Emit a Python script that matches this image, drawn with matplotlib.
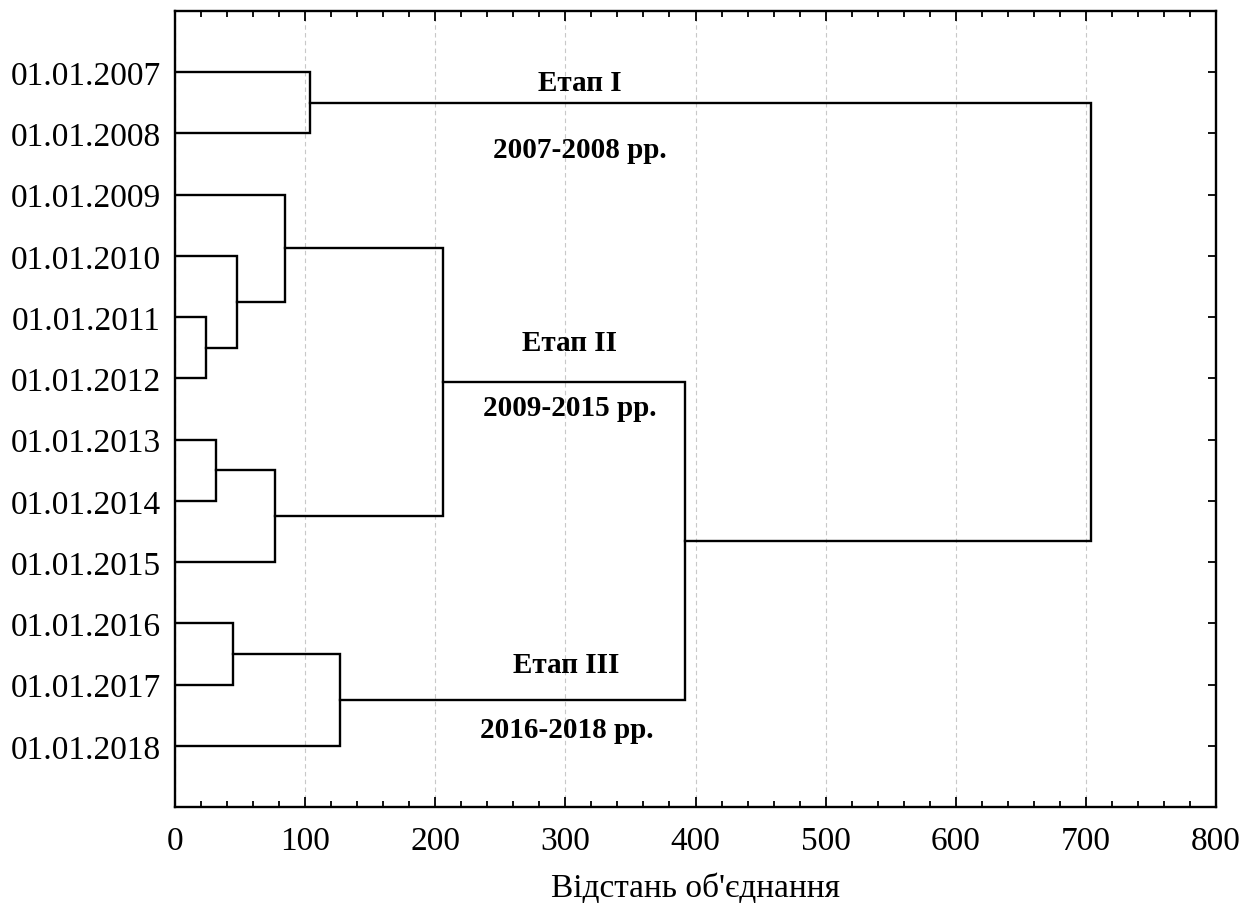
import matplotlib
matplotlib.use("Agg")
import matplotlib.pyplot as plt
from matplotlib.ticker import MultipleLocator

plt.rcParams['font.family'] = ['Liberation Serif', 'DejaVu Serif']

labels = ['01.01.2007', '01.01.2008', '01.01.2009', '01.01.2010', '01.01.2011',
          '01.01.2012', '01.01.2013', '01.01.2014', '01.01.2015', '01.01.2016',
          '01.01.2017', '01.01.2018']
# merges: (left node, right node, linkage distance); new nodes numbered from len(labels)
merge_left = [0, 4, 3, 2, 6, 16, 15, 9, 19, 18, 12]
merge_right = [1, 5, 13, 14, 7, 8, 17, 10, 11, 20, 21]
merge_height = [104, 24, 48, 84.5, 31.5, 77, 206, 44.5, 127, 392, 704]

stage_titles = ['Етап I', 'Етап II', 'Етап III']
stage_years = ['2007-2008 рр.', '2009-2015 рр.', '2016-2018 рр.']
stage_x = [311, 303, 301]
stage_title_y = [1.16, 5.41, 10.68]
stage_years_y = [2.26, 6.47, 11.74]

fig = plt.figure(figsize=(12.49, 9.04), dpi=100)
ax = fig.add_axes([0.1401, 0.1062, 0.9736 - 0.1401, 0.9867 - 0.1062])

pos = {i: (0.0, i + 1.0) for i in range(len(labels))}
n = len(labels)
for k, (a, b, h) in enumerate(zip(merge_left, merge_right, merge_height)):
    xa, ya = pos[a]
    xb, yb = pos[b]
    ax.plot([xa, h, h, xb], [ya, ya, yb, yb], color='black', lw=1.7,
            solid_joinstyle='miter', zorder=3)
    pos[n + k] = (h, (ya + yb) / 2)

for t, x, y in zip(stage_titles, stage_x, stage_title_y):
    ax.text(x, y, t, ha='center', va='center', fontsize=21, fontweight='bold')
for t, x, y in zip(stage_years, stage_x, stage_years_y):
    ax.text(x, y, t, ha='center', va='center', fontsize=21, fontweight='bold')

ax.set_xlim(0, 800)
ax.set_ylim(13, 0)
ax.xaxis.set_major_locator(MultipleLocator(100))
ax.xaxis.set_minor_locator(MultipleLocator(20))
ax.set_yticks(range(1, n + 1))
ax.set_yticklabels(labels)
ax.grid(axis='x', which='major', color='#c8c8c8', linestyle=(0, (4, 3)), lw=0.8, zorder=0)

ax.tick_params(axis='both', which='both', direction='in', top=True, right=True,
               labelsize=24, width=1.3)
ax.tick_params(axis='x', which='major', length=7, pad=13)
ax.tick_params(axis='x', which='minor', length=4)
ax.tick_params(axis='y', which='major', length=6, pad=10)
for s in ax.spines.values():
    s.set_linewidth(1.7)

ax.set_xlabel("Відстань об'єднання", fontsize=24, labelpad=12)

fig.savefig('out.png', dpi=100)
